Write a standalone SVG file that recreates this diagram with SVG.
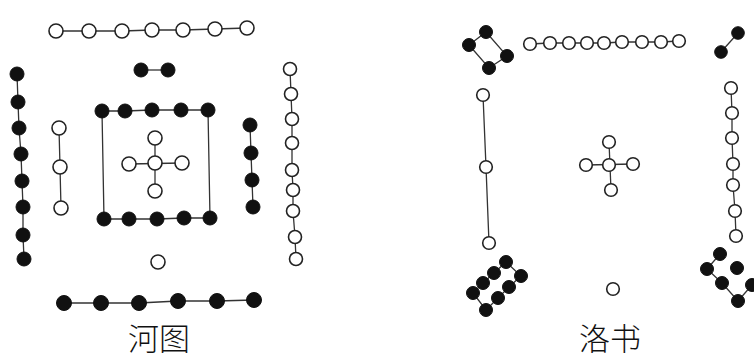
<svg xmlns="http://www.w3.org/2000/svg" width="754" height="358" viewBox="0 0 754 358">
<style>
.b{fill:#111;stroke:#111;stroke-width:1}
.w{fill:#fff;stroke:#222;stroke-width:1.6}
.l{fill:none;stroke:#333;stroke-width:1.3}
.t{font-family:"Noto Sans CJK SC","Noto Sans CJK JP",sans-serif;font-size:31px;font-weight:300;fill:#111;text-anchor:middle}
</style>
<rect width="754" height="358" fill="#fff"/>
<g id="connectors">
<polyline class="l" points="56,31 89,31 122,31 152,30 183,30 215,29 247,28"/>
<line class="l" x1="141" y1="70" x2="168" y2="70"/>
<polyline class="l" points="17,74 18,102 19,128 21,154 22,181 23,207 23,235 24,259"/>
<polyline class="l" points="59,128 60,167 61,208"/>
<polyline class="l" points="104,219 102,111 125,111 152,110 181,110 208,110 210,218"/>
<polyline class="l" points="104,219 129,219 157,219 184,218 210,218"/>
<line class="l" x1="155" y1="138" x2="155" y2="191"/>
<line class="l" x1="129" y1="164" x2="182" y2="163"/>
<polyline class="l" points="250,125 251,153 252,180 253,207"/>
<polyline class="l" points="290,69 291,94 292,119 292,143 292,170 293,190 293,211 295,237 296,259"/>
<polyline class="l" points="64,303 101,303 139,303 178,301 217,301 254,300"/>
<polygon class="l" points="486,32 507,56 489,68 469,45"/>
<polyline class="l" points="530,44 550,43 569,43 587,43 604,43 622,42 642,42 661,42 679,41"/>
<line class="l" x1="738" y1="33" x2="721" y2="52"/>
<polyline class="l" points="483,95 486,167 489,243"/>
<polyline class="l" points="731,88 732,113 732,138 733,164 733,185 735,211 736,236"/>
<line class="l" x1="609" y1="142" x2="611" y2="190"/>
<line class="l" x1="586" y1="165" x2="633" y2="164"/>
<polygon class="l" points="506,262 494,273 483,283 473,293 486,310 498,298 509,287 521,276"/>
<polyline class="l" points="720,254 707,269 722,283 738,301 752,285"/>
</g>
<g id="hetu">
<g id="ht-south-7">
<circle class="w" cx="56" cy="31" r="7"/><circle class="w" cx="89" cy="31" r="7"/><circle class="w" cx="122" cy="31" r="7"/><circle class="w" cx="152" cy="30" r="7"/><circle class="w" cx="183" cy="30" r="7"/><circle class="w" cx="215" cy="29" r="7"/><circle class="w" cx="247" cy="28" r="7"/>
</g>
<g id="ht-south-2">
<circle class="b" cx="141" cy="70" r="7"/><circle class="b" cx="168" cy="70" r="7"/>
</g>
<g id="ht-east-8">
<circle class="b" cx="17" cy="74" r="7"/><circle class="b" cx="18" cy="102" r="7"/><circle class="b" cx="19" cy="128" r="7"/><circle class="b" cx="21" cy="154" r="7"/><circle class="b" cx="22" cy="181" r="7"/><circle class="b" cx="23" cy="207" r="7"/><circle class="b" cx="23" cy="235" r="7"/><circle class="b" cx="24" cy="259" r="7"/>
</g>
<g id="ht-east-3">
<circle class="w" cx="59" cy="128" r="7"/><circle class="w" cx="60" cy="167" r="7"/><circle class="w" cx="61" cy="208" r="7"/>
</g>
<g id="ht-center-10">
<circle class="b" cx="102" cy="111" r="7"/><circle class="b" cx="125" cy="111" r="7"/><circle class="b" cx="152" cy="110" r="7"/><circle class="b" cx="181" cy="110" r="7"/><circle class="b" cx="208" cy="110" r="7"/>
<circle class="b" cx="104" cy="219" r="7"/><circle class="b" cx="129" cy="219" r="7"/><circle class="b" cx="157" cy="219" r="7"/><circle class="b" cx="184" cy="218" r="7"/><circle class="b" cx="210" cy="218" r="7"/>
</g>
<g id="ht-center-5">
<circle class="w" cx="155" cy="138" r="7"/><circle class="w" cx="129" cy="164" r="7"/><circle class="w" cx="155" cy="163" r="7"/><circle class="w" cx="182" cy="163" r="7"/><circle class="w" cx="155" cy="191" r="7"/>
</g>
<g id="ht-west-4">
<circle class="b" cx="250" cy="125" r="7"/><circle class="b" cx="251" cy="153" r="7"/><circle class="b" cx="252" cy="180" r="7"/><circle class="b" cx="253" cy="207" r="7"/>
</g>
<g id="ht-west-9">
<circle class="w" cx="290" cy="69" r="6.5"/><circle class="w" cx="291" cy="94" r="6.5"/><circle class="w" cx="292" cy="119" r="6.5"/><circle class="w" cx="292" cy="143" r="6.5"/><circle class="w" cx="292" cy="170" r="6.5"/><circle class="w" cx="293" cy="190" r="6.5"/><circle class="w" cx="293" cy="211" r="6.5"/><circle class="w" cx="295" cy="237" r="6.5"/><circle class="w" cx="296" cy="259" r="6.5"/>
</g>
<g id="ht-north-1">
<circle class="w" cx="158" cy="262" r="7"/>
</g>
<g id="ht-north-6">
<circle class="b" cx="64" cy="303" r="7.5"/><circle class="b" cx="101" cy="303" r="7.5"/><circle class="b" cx="139" cy="303" r="7.5"/><circle class="b" cx="178" cy="301" r="7.5"/><circle class="b" cx="217" cy="301" r="7.5"/><circle class="b" cx="254" cy="300" r="7.5"/>
</g>
<text id="label-hetu" class="t" x="159" y="350">河图</text>
</g>
<g id="luoshu">
<g id="ls-4">
<circle class="b" cx="486" cy="32" r="6.5"/><circle class="b" cx="469" cy="45" r="6.5"/><circle class="b" cx="507" cy="56" r="6.5"/><circle class="b" cx="489" cy="68" r="6.5"/>
</g>
<g id="ls-9">
<circle class="w" cx="530" cy="44" r="6.3"/><circle class="w" cx="550" cy="43" r="6.3"/><circle class="w" cx="569" cy="43" r="6.3"/><circle class="w" cx="587" cy="43" r="6.3"/><circle class="w" cx="604" cy="43" r="6.3"/><circle class="w" cx="622" cy="42" r="6.3"/><circle class="w" cx="642" cy="42" r="6.3"/><circle class="w" cx="661" cy="42" r="6.3"/><circle class="w" cx="679" cy="41" r="6.3"/>
</g>
<g id="ls-2">
<circle class="b" cx="738" cy="33" r="6.3"/><circle class="b" cx="721" cy="52" r="6.3"/>
</g>
<g id="ls-3">
<circle class="w" cx="483" cy="95" r="6.3"/><circle class="w" cx="486" cy="167" r="6.3"/><circle class="w" cx="489" cy="243" r="6.3"/>
</g>
<g id="ls-5">
<circle class="w" cx="609" cy="142" r="6.3"/><circle class="w" cx="586" cy="165" r="6.3"/><circle class="w" cx="609" cy="165" r="6.3"/><circle class="w" cx="633" cy="164" r="6.3"/><circle class="w" cx="611" cy="190" r="6.3"/>
</g>
<g id="ls-7">
<circle class="w" cx="731" cy="88" r="6.3"/><circle class="w" cx="732" cy="113" r="6.3"/><circle class="w" cx="732" cy="138" r="6.3"/><circle class="w" cx="733" cy="164" r="6.3"/><circle class="w" cx="733" cy="185" r="6.3"/><circle class="w" cx="735" cy="211" r="6.3"/><circle class="w" cx="736" cy="236" r="6.3"/>
</g>
<g id="ls-8">
<circle class="b" cx="506" cy="262" r="6.5"/><circle class="b" cx="494" cy="273" r="6.5"/><circle class="b" cx="483" cy="283" r="6.5"/><circle class="b" cx="473" cy="293" r="6.5"/><circle class="b" cx="521" cy="276" r="6.5"/><circle class="b" cx="509" cy="287" r="6.5"/><circle class="b" cx="498" cy="298" r="6.5"/><circle class="b" cx="486" cy="310" r="6.5"/>
</g>
<g id="ls-1">
<circle class="w" cx="613" cy="289" r="6.3"/>
</g>
<g id="ls-6">
<circle class="b" cx="720" cy="254" r="6.5"/><circle class="b" cx="707" cy="269" r="6.5"/><circle class="b" cx="737" cy="268" r="6.5"/><circle class="b" cx="722" cy="283" r="6.5"/><circle class="b" cx="738" cy="301" r="6.5"/><circle class="b" cx="752" cy="285" r="6.5"/>
</g>
<text id="label-luoshu" class="t" x="610" y="350">洛书</text>
</g>
</svg>
